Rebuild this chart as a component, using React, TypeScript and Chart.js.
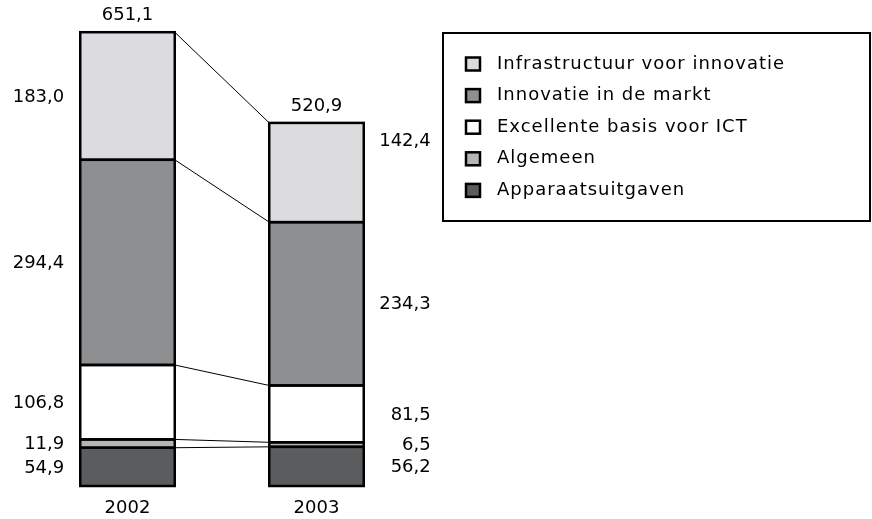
import React, { useEffect, useRef } from "react";
import { Chart, registerables } from "chart.js";

Chart.register(...registerables);

const categories = ["2002", "2003"];
const seriesNames = [
  "Apparaatsuitgaven",
  "Algemeen",
  "Excellente basis voor ICT",
  "Innovatie in de markt",
  "Infrastructuur voor innovatie",
];
const apparaat = [54.9, 56.2];
const algemeen = [11.9, 6.5];
const excellente = [106.8, 81.5];
const innovatieMarkt = [294.4, 234.3];
const infrastructuur = [183.0, 142.4];
const totals = [651.1, 520.9];
const colors = ["#5b5c5e", "#b4b5b7", "#ffffff", "#8e8f91", "#dcdcde"];

const FONT = "'DejaVu Sans', sans-serif";
const fmt = (v: number) => v.toFixed(1).replace(".", ",");

const overlay = {
  id: "overlay",
  afterDatasetsDraw(chart: any) {
    const ctx = chart.ctx;
    const n = chart.data.datasets.length;
    ctx.save();
    // connector lines
    ctx.strokeStyle = "#000";
    ctx.lineWidth = 1;
    for (let d = 0; d < n; d++) {
      const els = chart.getDatasetMeta(d).data;
      const a = els[0];
      const b = els[1];
      ctx.beginPath();
      ctx.moveTo(a.x + a.width / 2, a.y);
      ctx.lineTo(b.x - b.width / 2, b.y);
      ctx.stroke();
    }
    // outlines
    ctx.lineWidth = 2.5;
    for (let d = 0; d < n; d++) {
      chart.getDatasetMeta(d).data.forEach((el: any) => {
        ctx.strokeRect(el.x - el.width / 2, el.y, el.width, el.base - el.y);
      });
    }
    // value labels
    ctx.fillStyle = "#000";
    ctx.font = `18px ${FONT}`;
    ctx.textBaseline = "middle";
    for (let d = 0; d < n; d++) {
      const ds = chart.data.datasets[d];
      chart.getDatasetMeta(d).data.forEach((el: any, i: number) => {
        let y = (el.y + el.base) / 2 + 1;
        if (d === n - 1 && i === 1) y = el.y + 18;
        ctx.textAlign = "right";
        if (i === 0) {
          ctx.fillText(fmt(ds.data[i]), el.x - el.width / 2 - 16, y);
        } else {
          ctx.fillText(fmt(ds.data[i]), el.x + el.width / 2 + 67, y);
        }
      });
    }
    // totals & categories
    ctx.textAlign = "center";
    const top = chart.getDatasetMeta(n - 1).data;
    top.forEach((el: any, i: number) => {
      ctx.fillText(fmt(totals[i]), el.x, el.y - 17);
      ctx.fillText(categories[i], el.x, 508);
    });
    // legend
    ctx.lineWidth = 2;
    ctx.strokeRect(443, 33, 427, 188);
    ctx.textAlign = "left";
    (ctx as any).letterSpacing = "1px";
    for (let k = 0; k < n; k++) {
      const d = n - 1 - k;
      const cy = 64 + k * 31.6;
      ctx.fillStyle = colors[d];
      ctx.fillRect(466, cy - 6.5, 14, 13);
      ctx.lineWidth = 2.5;
      ctx.strokeStyle = "#000";
      ctx.strokeRect(466, cy - 6.5, 14, 13);
      ctx.fillStyle = "#000";
      ctx.fillText(seriesNames[d], 497, cy);
    }
    ctx.restore();
  },
};

export default function App() {
  const ref = useRef<HTMLCanvasElement>(null);
  useEffect(() => {
    const values = [apparaat, algemeen, excellente, innovatieMarkt, infrastructuur];
    const chart = new Chart(ref.current!, {
      type: "bar",
      data: {
        labels: categories,
        datasets: values.map((v, i) => ({
          label: seriesNames[i],
          data: v,
          backgroundColor: colors[i],
          borderWidth: 0,
          barPercentage: 1,
          categoryPercentage: 0.5,
        })),
      },
      options: {
        animation: false,
        responsive: false,
        devicePixelRatio: 1,
        layout: { padding: { left: 33, right: 461, top: 12, bottom: 33 } },
        plugins: { legend: { display: false }, tooltip: { enabled: false } },
        scales: {
          x: { stacked: true, display: false },
          y: { stacked: true, display: false, min: 0, max: 680 },
        },
      },
      plugins: [overlay],
    });
    return () => chart.destroy();
  }, []);
  return (
    <div style={{ position: "fixed", left: 0, top: 0, width: 872, height: 519, background: "#fff" }}>
      <canvas ref={ref} width={872} height={519} />
    </div>
  );
}
